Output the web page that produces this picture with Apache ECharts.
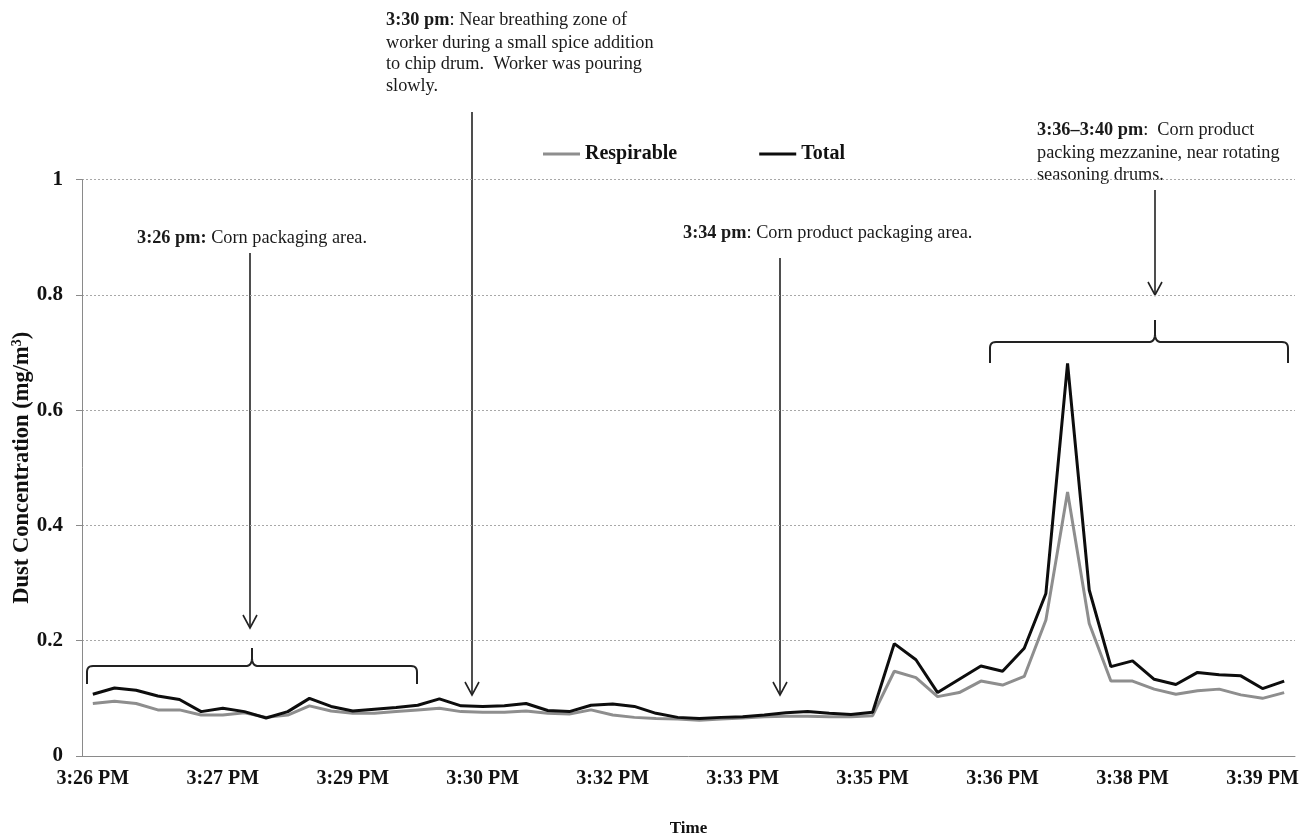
<!DOCTYPE html>
<html>
<head>
<meta charset="utf-8">
<script src="https://cdn.jsdelivr.net/npm/echarts@6/dist/echarts.min.js"></script>
<style>
html,body{margin:0;padding:0;background:#fff;}
#chart{width:1306px;height:840px;}
</style>
</head>
<body>
<div id="chart"></div>
<script>
// 15-second samples from 3:26:00 PM to 3:39:45 PM
var times = [
 "3:26:00","3:26:15","3:26:30","3:26:45","3:27:00","3:27:15","3:27:30","3:27:45",
 "3:28:00","3:28:15","3:28:30","3:28:45","3:29:00","3:29:15","3:29:30","3:29:45",
 "3:30:00","3:30:15","3:30:30","3:30:45","3:31:00","3:31:15","3:31:30","3:31:45",
 "3:32:00","3:32:15","3:32:30","3:32:45","3:33:00","3:33:15","3:33:30","3:33:45",
 "3:34:00","3:34:15","3:34:30","3:34:45","3:35:00","3:35:15","3:35:30","3:35:45",
 "3:36:00","3:36:15","3:36:30","3:36:45","3:37:00","3:37:15","3:37:30","3:37:45",
 "3:38:00","3:38:15","3:38:30","3:38:45","3:39:00","3:39:15","3:39:30","3:39:45"
];
var respirable = [
 0.091,0.095,0.091,0.080,0.080,0.071,0.071,0.075,0.067,0.071,
 0.087,0.078,0.074,0.074,0.077,0.080,0.083,0.077,0.076,0.076,
 0.078,0.074,0.073,0.080,0.071,0.067,0.065,0.064,0.062,0.064,
 0.066,0.068,0.069,0.069,0.068,0.068,0.070,0.147,0.136,0.103,
 0.110,0.130,0.123,0.138,0.236,0.458,0.230,0.130,0.130,0.116,
 0.107,0.113,0.116,0.106,0.100,0.110
];
var total = [
 0.107,0.118,0.114,0.104,0.098,0.077,0.083,0.077,0.066,0.077,
 0.100,0.086,0.078,0.081,0.084,0.088,0.099,0.087,0.086,0.087,
 0.091,0.079,0.077,0.088,0.090,0.086,0.074,0.067,0.065,0.067,
 0.068,0.071,0.075,0.077,0.074,0.072,0.076,0.195,0.167,0.110,
 0.133,0.156,0.147,0.187,0.282,0.681,0.288,0.155,0.165,0.133,
 0.124,0.145,0.141,0.139,0.117,0.130
];
var yTicks = [0, 0.2, 0.4, 0.6, 0.8, 1];

var FONT = '"Liberation Serif","Times New Roman",serif';
var TXT = '#1a1a1a';
var AFS = 18.3;

function fmtTime(t){ var p = t.split(':'); return p[0] + ':' + p[1] + ' PM'; }

function arrow(x, y1, y2){
  return [
    {type:'line', shape:{x1:x,y1:y1,x2:x,y2:y2}, style:{stroke:'#222',lineWidth:1.6}},
    {type:'polyline', shape:{points:[[x-7,y2-13],[x,y2],[x+7,y2-13]]}, style:{stroke:'#222',lineWidth:1.6,fill:null}}
  ];
}
function quad(p0, p1, p2, n){
  var out = [];
  for (var k = 1; k <= n; k++){
    var t = k / n, a = (1-t)*(1-t), b = 2*(1-t)*t, c = t*t;
    out.push([a*p0[0]+b*p1[0]+c*p2[0], a*p0[1]+b*p1[1]+c*p2[1]]);
  }
  return out;
}
function bracket(xl, xr, xm, yline, ybot, ytip){
  var r = 6, pts = [[xl, ybot], [xl, yline + r]];
  pts = pts.concat(quad([xl, yline + r], [xl, yline], [xl + r, yline], 6));
  pts.push([xm - 5, yline]);
  pts = pts.concat(quad([xm - 5, yline], [xm, yline - 1], [xm, yline - 8], 6));
  pts.push([xm, ytip]);
  pts.push([xm, yline - 8]);
  pts = pts.concat(quad([xm, yline - 8], [xm, yline - 1], [xm + 5, yline], 6));
  pts.push([xr - r, yline]);
  pts = pts.concat(quad([xr - r, yline], [xr, yline], [xr, yline + r], 6));
  pts.push([xr, ybot]);
  return {type:'polyline', shape:{points:pts}, style:{stroke:'#222',lineWidth:2,fill:null}};
}
function label(x, y, text){
  return {type:'text', x:x, y:y, style:{text:text, fontFamily:FONT, fontSize:AFS, fill:TXT, verticalAlign:'middle',
    rich:{b:{fontWeight:'bold',fontFamily:FONT,fontSize:AFS,fill:TXT}}}};
}

var graphics = [].concat(
  arrow(250, 253, 628),
  arrow(472, 112, 695),
  arrow(780, 258, 695),
  arrow(1155, 190, 295),
  [
    bracket(87, 417, 252, 666, 684, 648),
    bracket(990, 1288, 1155, 342, 363, 320),
    label(137, 238, '{b|3:26 pm:} Corn packaging area.'),
    label(386, 20, '{b|3:30 pm}: Near breathing zone of'),
    label(386, 43, 'worker during a small spice addition'),
    label(386, 64, 'to chip drum.  Worker was pouring'),
    label(386, 86, 'slowly.'),
    label(683, 233, '{b|3:34 pm}: Corn product packaging area.'),
    label(1037, 130, '{b|3:36\u20133:40 pm}:  Corn product'),
    label(1037, 153, 'packing mezzanine, near rotating'),
    label(1037, 175, 'seasoning drums.')
  ]
);

var chart = echarts.init(document.getElementById('chart'), null, {renderer:'canvas'});
chart.setOption({
  animation:false,
  backgroundColor:'#fff',
  grid:{left:82, right:11, top:179.5, bottom:84, containLabel:false, outerBoundsMode:'none'},
  legend:{
    data:['Respirable','Total'],
    left:543, top:144, padding:0,
    icon:'rect', itemWidth:37, itemHeight:3, itemGap:82,
    textStyle:{fontFamily:FONT, fontWeight:'bold', fontSize:20, color:'#111'}
  },
  xAxis:{
    type:'category',
    data:times,
    boundaryGap:true,
    name:'Time', nameLocation:'middle', nameGap:64, nameMoveOverlap:false,
    nameTextStyle:{fontFamily:FONT, fontWeight:'bold', fontSize:17, color:'#111'},
    axisLine:{lineStyle:{color:'#8a8a8a', width:1}},
    axisTick:{interval:3, length:6, lineStyle:{color:'#8a8a8a'}},
    axisLabel:{interval:5, formatter:fmtTime, fontFamily:FONT, fontWeight:'bold', fontSize:20, color:'#111', margin:13},
    splitLine:{show:false}
  },
  yAxis:{
    type:'value', min:yTicks[0], max:yTicks[yTicks.length-1], interval:0.2,
    name:'Dust Concentration (mg/m{sup|3})', nameLocation:'middle', nameRotate:90, nameGap:48, nameMoveOverlap:false,
    nameTextStyle:{fontFamily:FONT, fontWeight:'bold', fontSize:22.5, color:'#111',
      rich:{sup:{fontFamily:FONT, fontWeight:'bold', fontSize:14, color:'#111', padding:[0,0,10,0]}}},
    axisLine:{show:true, lineStyle:{color:'#8a8a8a', width:1}},
    axisTick:{show:true, length:6, lineStyle:{color:'#8a8a8a'}},
    axisLabel:{fontFamily:FONT, fontWeight:'bold', fontSize:21, color:'#111', margin:19},
    splitLine:{lineStyle:{color:'#a8a8a8', type:[2,2], width:1}}
  },
  series:[
    {name:'Respirable', type:'line', data:respirable, symbol:'none', color:'#8e8e8e',
     lineStyle:{color:'#8e8e8e', width:3}, z:2},
    {name:'Total', type:'line', data:total, symbol:'none', color:'#0d0d0d',
     lineStyle:{color:'#0d0d0d', width:3}, z:3}
  ],
  graphic:graphics
});
</script>
</body>
</html>
